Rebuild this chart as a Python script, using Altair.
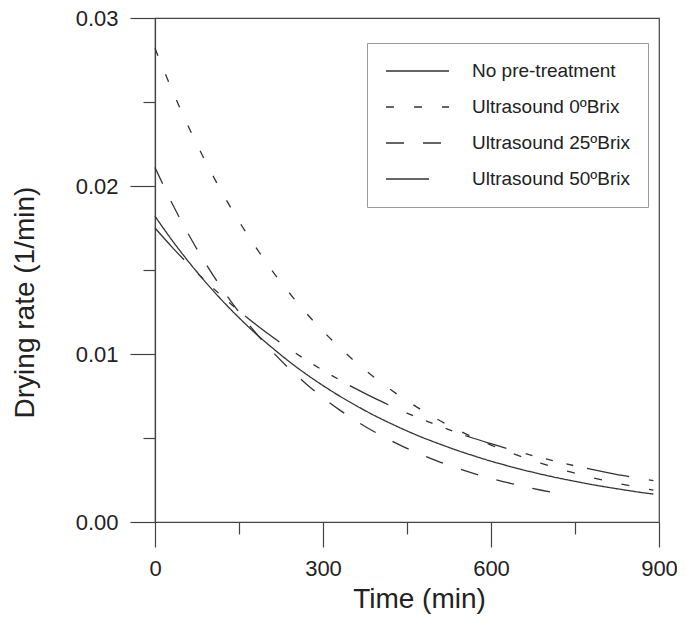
import altair as alt
import pandas as pd

# ---- data ----
series_names = ["No pre-treatment", "Ultrasound 0ºBrix", "Ultrasound 25ºBrix", "Ultrasound 50ºBrix"]

t_main = [0, 30, 60, 90, 120, 150, 180, 210, 240, 270, 300, 330, 360, 390, 420,
          450, 480, 510, 540, 570, 600, 630, 660, 690, 720, 750, 780, 810, 840, 870, 890]
no_pre = [0.01820, 0.01679, 0.01549, 0.01429, 0.01318, 0.01216, 0.01121, 0.01035, 0.00954,
          0.00880, 0.00812, 0.00749, 0.00691, 0.00637, 0.00588, 0.00542, 0.00500, 0.00462,
          0.00426, 0.00393, 0.00362, 0.00334, 0.00308, 0.00284, 0.00262, 0.00242, 0.00223,
          0.00206, 0.00190, 0.00175, 0.00166]
us0 = [0.02820, 0.02575, 0.02351, 0.02147, 0.01960, 0.01790, 0.01635, 0.01492, 0.01363,
       0.01244, 0.01136, 0.01038, 0.00947, 0.00865, 0.00790, 0.00721, 0.00659, 0.00601,
       0.00549, 0.00501, 0.00458, 0.00418, 0.00382, 0.00349, 0.00318, 0.00291, 0.00265,
       0.00242, 0.00221, 0.00202, 0.00190]
us50 = [0.01750, 0.01638, 0.01533, 0.01435, 0.01343, 0.01257, 0.01176, 0.01101, 0.01030,
        0.00964, 0.00903, 0.00845, 0.00791, 0.00740, 0.00693, 0.00648, 0.00607, 0.00568,
        0.00531, 0.00497, 0.00466, 0.00436, 0.00408, 0.00382, 0.00357, 0.00334, 0.00313,
        0.00293, 0.00274, 0.00257, 0.00246]
t_25 = [0, 30, 60, 90, 120, 150, 180, 210, 240, 270, 300, 330, 360, 390, 420,
        450, 480, 510, 540, 570, 600, 630, 660, 690, 720]
us25 = [0.02110, 0.01900, 0.01711, 0.01541, 0.01388, 0.01249, 0.01125, 0.01013, 0.00912,
        0.00822, 0.00740, 0.00666, 0.00600, 0.00540, 0.00487, 0.00438, 0.00395, 0.00355,
        0.00320, 0.00288, 0.00259, 0.00234, 0.00210, 0.00189, 0.00171]

x_ticks = [0, 150, 300, 450, 600, 750, 900]
y_ticks = [0.0, 0.005, 0.01, 0.015, 0.02, 0.025, 0.03]

dash_patterns = [[1, 0], [8, 20], [18, 19], [43, 20, 7, 14, 7, 14, 7, 14]]

rows = []
for t, v in zip(t_main, no_pre):
    rows.append({"t": t, "v": v, "s": series_names[0]})
for t, v in zip(t_main, us0):
    rows.append({"t": t, "v": v, "s": series_names[1]})
for t, v in zip(t_25, us25):
    rows.append({"t": t, "v": v, "s": series_names[2]})
for t, v in zip(t_main, us50):
    rows.append({"t": t, "v": v, "s": series_names[3]})
df = pd.DataFrame(rows)

FONT = "Liberation Sans"
INK = "#222222"
LINE = "#333333"
AX = "#444444"

chart = alt.Chart(df).mark_line(interpolate="monotone", strokeWidth=1.3, color=LINE).encode(
    x=alt.X("t:Q",
            scale=alt.Scale(domain=[0, 900], nice=False, zero=False),
            axis=alt.Axis(
                values=x_ticks, format="d", labelFlush=False,
                labelExpr="datum.value % 300 == 0 ? datum.label : ''",
                tickSize={"condition": {"test": "datum.value % 300 == 0", "value": 25}, "value": 12},
                labelPadding=11, labelFontSize=22, labelFont=FONT, labelColor=INK,
                grid=False, domainColor=AX, tickColor=AX, domainWidth=1.2, tickWidth=1.2,
                title="Time (min)", titleFontSize=28, titleFont=FONT, titleColor=INK,
                titleFontWeight="normal", titleX=264, titleY=85, titleBaseline="alphabetic",
                titleAlign="center")),
    y=alt.Y("v:Q",
            scale=alt.Scale(domain=[0, 0.03], nice=False, zero=False),
            axis=alt.Axis(
                values=y_ticks, format=".2f", labelFlush=False,
                labelExpr="round(datum.value * 1000) % 10 == 0 ? datum.label : ''",
                tickSize={"condition": {"test": "round(datum.value * 1000) % 10 == 0", "value": 25}, "value": 12},
                labelPadding=12, labelFontSize=22, labelFont=FONT, labelColor=INK,
                grid=False, domainColor=AX, tickColor=AX, domainWidth=1.2, tickWidth=1.2,
                title="Drying rate (1/min)", titleFontSize=28, titleFont=FONT, titleColor=INK,
                titleFontWeight="normal", titleX=-122, titleY=284, titleBaseline="alphabetic",
                titleAlign="center")),
    strokeDash=alt.StrokeDash("s:N",
        scale=alt.Scale(domain=series_names, range=dash_patterns),
        legend=alt.Legend(
            title=None, orient="none", legendX=212, legendY=25,
            padding=18, strokeColor="#999999", fillColor="white",
            symbolType="stroke", symbolSize=3969, symbolStrokeWidth=1.3,
            symbolStrokeColor=LINE, clipHeight=20,
            labelFontSize=19, labelFont=FONT, labelColor=INK, labelOffset=22,
            rowPadding=16, labelLimit=400)),
    order=alt.Order("t:Q"),
).properties(
    width=504, height=504,
    autosize=alt.AutoSizeParams(type="none"),
    padding={"left": 147, "top": 10, "right": 18, "bottom": 93},
    background="white",
).configure_view(stroke=AX, strokeWidth=1.2)

chart.save("out.html", embed_options={"renderer": "svg", "actions": False})
